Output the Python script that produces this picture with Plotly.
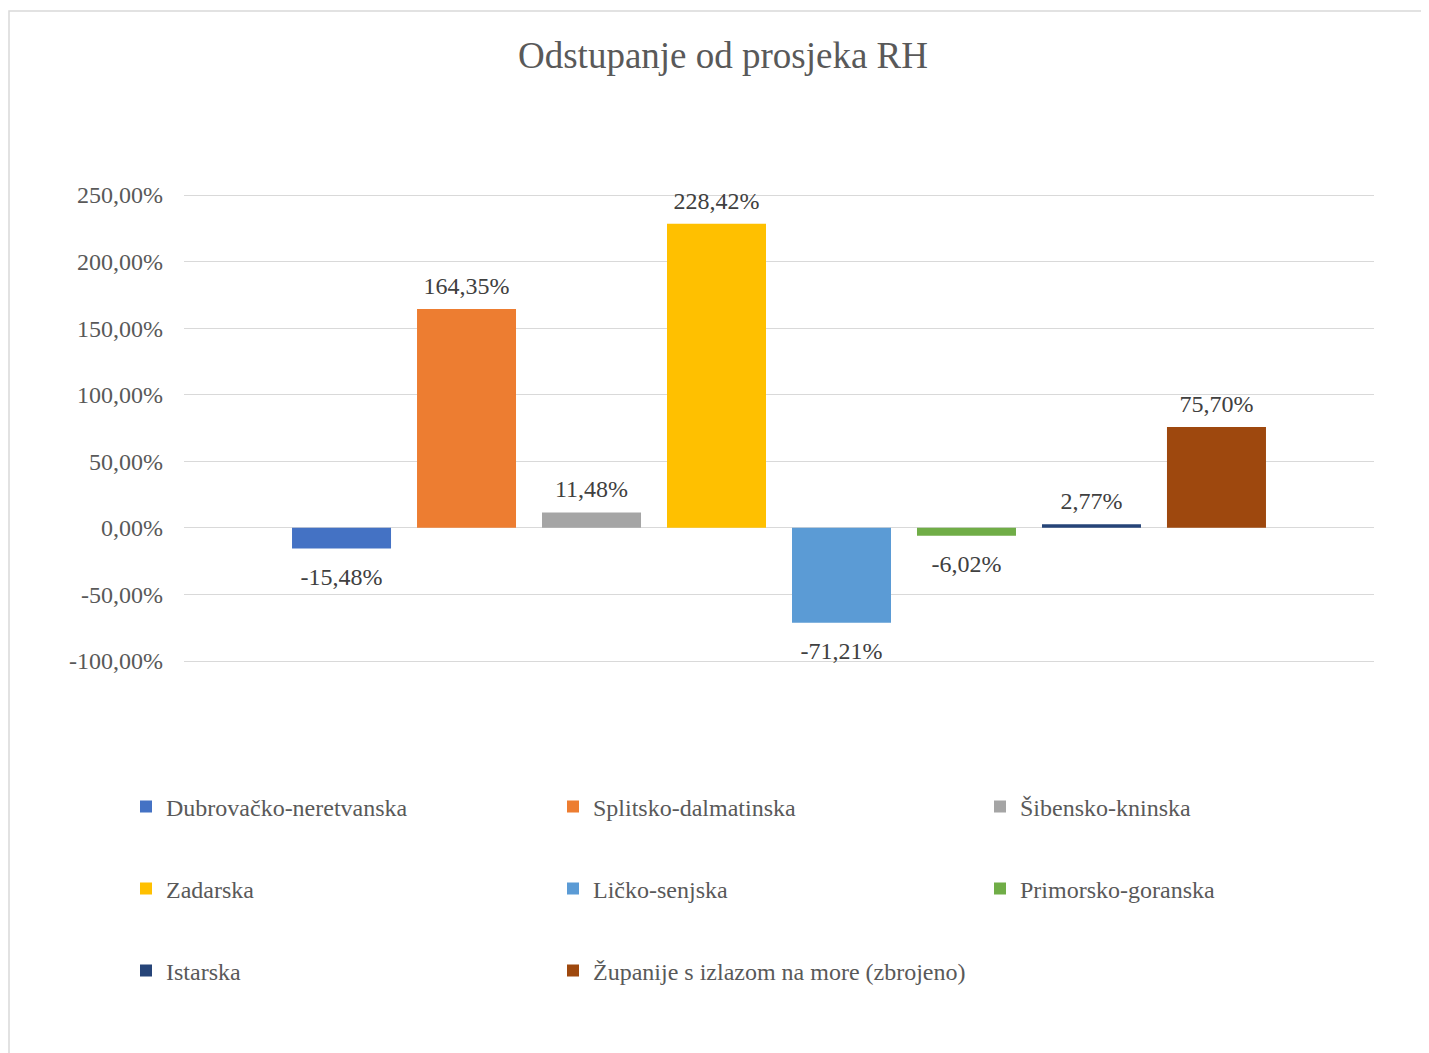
import plotly.graph_objects as go

series_names = [
    "Dubrovačko-neretvanska",
    "Splitsko-dalmatinska",
    "Šibensko-kninska",
    "Zadarska",
    "Ličko-senjska",
    "Primorsko-goranska",
    "Istarska",
    "Županije s izlazom na more (zbrojeno)",
]
values = [-15.48, 164.35, 11.48, 228.42, -71.21, -6.02, 2.77, 75.70]
colors = ["#4472C4", "#ED7D31", "#A5A5A5", "#FFC000", "#5B9BD5", "#70AD47", "#264478", "#9E480E"]
tick_values = [-100, -50, 0, 50, 100, 150, 200, 250]
category = [""]

def fmt(v):
    return f"{v:.2f}".replace(".", ",") + "%"

tick_text = [fmt(v) for v in tick_values]

FONT = "Liberation Serif"
W, H = 1429, 1053
OFF = 8  # page body margin
EXT = 2  # px of extra plot height each side so the end gridlines are drawn
PXU = (661 - 195) / 350.0
L, T = 184 - OFF, 195 - OFF - EXT
R = W - (1374 - OFF)
B = H - (661 - OFF) - EXT
PW, PH = W - L - R, H - T - B
YR = [-100 - EXT / PXU, 250 + EXT / PXU]

# legend layout: 3 columns, 3 rows (page pixel coords of item origin / row centre)
col_x = [126, 553, 980]
row_y = [807, 889, 971]

fig = go.Figure()
legend_layouts = {}
for i, (name, v, c) in enumerate(zip(series_names, values, colors)):
    lname = "legend" if i == 0 else f"legend{i + 1}"
    fig.add_trace(go.Bar(
        x=category, y=[v], name=name, offsetgroup=str(i),
        marker=dict(color=c, line=dict(width=0)),
        legend=lname, hoverinfo="y+name",
    ))
    pos = v >= 0
    fig.add_trace(go.Scatter(
        x=category, y=[v], offsetgroup=str(i), mode="markers+text",
        marker=dict(size=13 if pos else 28, opacity=0), showlegend=False,
        text=[fmt(v)], textposition="top center" if pos else "bottom center",
        textfont=dict(family=FONT, size=24, color="#404040"),
        cliponaxis=False, hoverinfo="skip",
    ))
    legend_layouts[lname] = dict(
        orientation="h", xref="container", yref="container",
        x=(col_x[i % 3] - OFF) / W, xanchor="left",
        y=1 - (row_y[i // 3] - OFF) / H, yanchor="middle",
        font=dict(family=FONT, size=24, color="#595959"),
        itemwidth=30, bgcolor="rgba(0,0,0,0)",
    )

fig.update_layout(
    width=W, height=H,
    margin=dict(l=L, r=R, t=T, b=B),
    paper_bgcolor="white", plot_bgcolor="white",
    showlegend=True,
    barmode="group", bargap=0.1597, bargroupgap=0.208,
    scattermode="group", scattergap=0.1597,
    separators=",.",
    title=dict(text="Odstupanje od prosjeka RH", x=(723 - OFF) / W, xanchor="center",
               xref="container", yref="container", y=1 - (55 - OFF) / H, yanchor="middle",
               font=dict(family=FONT, size=37, color="#595959")),
    xaxis=dict(range=[-0.5, 0.5], showticklabels=False, showgrid=False,
               zeroline=False, showline=False, fixedrange=True),
    yaxis=dict(range=YR, tickvals=tick_values, ticktext=tick_text,
               showgrid=True, gridcolor="#D9D9D9", gridwidth=1.3,
               zeroline=True, zerolinecolor="#D9D9D9", zerolinewidth=1.3,
               showline=False, ticks="", ticklabelstandoff=20,
               tickfont=dict(family=FONT, size=24, color="#595959")),
    shapes=[dict(type="rect", xref="paper", yref="paper",
                 x0=(9 - OFF - L) / PW, x1=(1460 - OFF - L) / PW,
                 y0=-(1080 - OFF - T - PH) / PH, y1=(T + PH - (11 - OFF)) / PH,
                 line=dict(color="#D9D9D9", width=1.5), fillcolor="rgba(0,0,0,0)",
                 layer="below")],
    **legend_layouts,
)

fig.write_html("out.html")
